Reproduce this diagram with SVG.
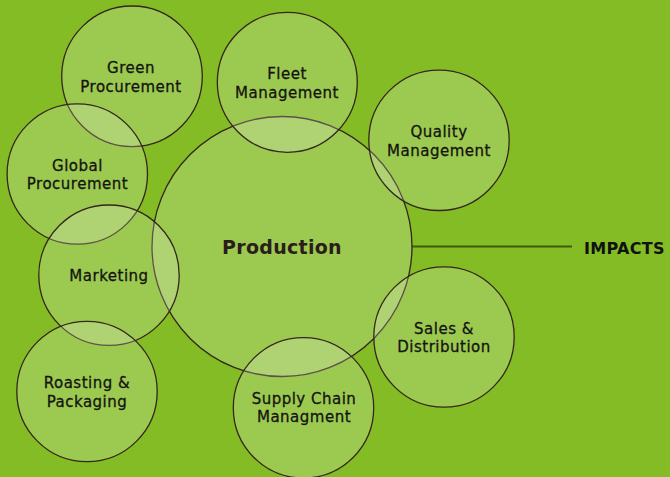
<svg xmlns="http://www.w3.org/2000/svg" width="670" height="477" viewBox="0 0 670 477">
<style>
.c{fill:#ffffff;fill-opacity:0.2;stroke:#35261c;stroke-width:1.3}
.t{font-family:"DejaVu Sans",sans-serif;font-size:15px;fill:#141410;stroke:#141410;stroke-width:0.3;text-anchor:middle;letter-spacing:0.5px}
.p{font-family:"DejaVu Sans",sans-serif;font-size:19px;font-weight:bold;fill:#2b1d1a;text-anchor:middle;letter-spacing:0.3px}
.i{font-family:"DejaVu Sans",sans-serif;font-size:16px;font-weight:bold;fill:#111111;letter-spacing:0.3px}
</style>
<rect width="670" height="477" fill="#84bc25"/>
<g id="connectors">
<line x1="412" y1="246.5" x2="572" y2="246.5" stroke="#3d5a12" stroke-width="2"/>
</g>
<g id="production"><circle class="c" cx="282" cy="246.5" r="130"/><text class="p" x="282" y="254">Production</text></g>
<g id="green-procurement"><circle class="c" cx="132" cy="76.3" r="70.3"/><text class="t" x="131" y="73">Green</text><text class="t" x="131" y="92">Procurement</text></g>
<g id="fleet-management"><circle class="c" cx="287.3" cy="82.3" r="70"/><text class="t" x="287" y="79">Fleet</text><text class="t" x="287" y="97.5">Management</text></g>
<g id="quality-management"><circle class="c" cx="439" cy="140.3" r="70.2"/><text class="t" x="439" y="137.3">Quality</text><text class="t" x="439" y="155.5">Management</text></g>
<g id="global-procurement"><circle class="c" cx="77.3" cy="174" r="70.2"/><text class="t" x="77.5" y="170.7">Global</text><text class="t" x="77.5" y="188.5">Procurement</text></g>
<g id="marketing"><circle class="c" cx="109" cy="275.2" r="70.2"/><text class="t" x="109" y="280.7">Marketing</text></g>
<g id="roasting-packaging"><circle class="c" cx="87" cy="391.5" r="70.2"/><text class="t" x="87" y="388.3">Roasting &amp;</text><text class="t" x="87" y="406.7">Packaging</text></g>
<g id="sales-distribution"><circle class="c" cx="444" cy="337" r="70.2"/><text class="t" x="444" y="334">Sales &amp;</text><text class="t" x="444" y="352.3">Distribution</text></g>
<g id="supply-chain"><circle class="c" cx="303.5" cy="407.8" r="70.2"/><text class="t" x="304" y="404">Supply Chain</text><text class="t" x="304" y="422.3">Managment</text></g>
<g id="impacts"><text class="i" x="584" y="253.7">IMPACTS</text></g>
</svg>
